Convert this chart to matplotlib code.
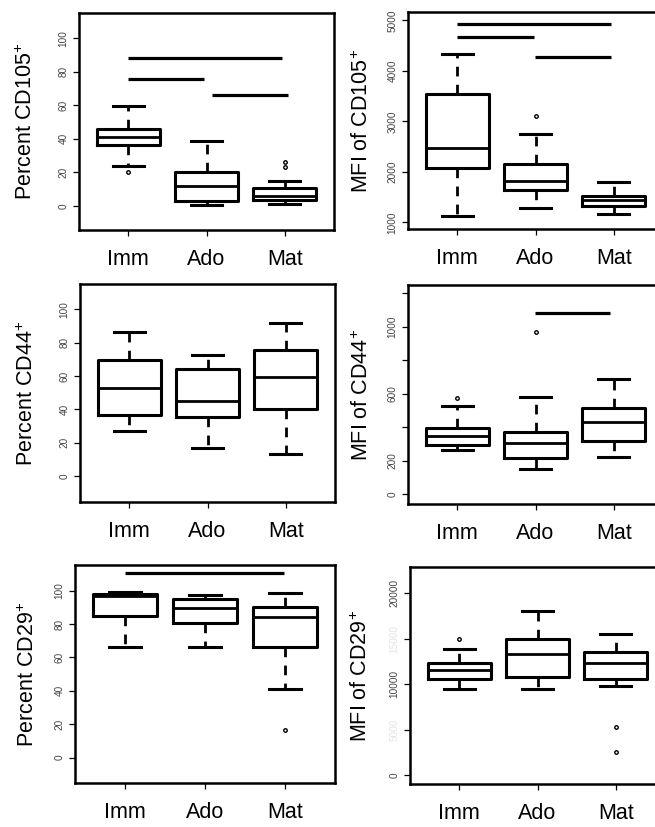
import matplotlib
matplotlib.use("Agg")
import matplotlib.pyplot as plt

plt.rcParams['font.family'] = ['Liberation Sans', 'DejaVu Sans']
plt.rcParams['mathtext.default'] = 'regular'

groups = ["Imm", "Ado", "Mat"]

# box stats per panel: whisker low, q1, median, q3, whisker high, outliers
cd105_pct_lo = [23.9, 0.4, 1.2]
cd105_pct_q1 = [36.3, 2.6, 3.4]
cd105_pct_med = [41.0, 11.8, 5.8]
cd105_pct_q3 = [45.8, 20.1, 10.4]
cd105_pct_hi = [59.4, 38.6, 14.7]
cd105_pct_out = [[20.1], [], [23.3, 25.9]]
cd105_pct_sig = [(1, 2.96, 88.4), (1, 1.97, 75.5), (2.07, 3.04, 66.1)]

cd105_mfi_lo = [1132, 1284, 1165]
cd105_mfi_q1 = [2069, 1634, 1317]
cd105_mfi_med = [2472, 1812, 1449]
cd105_mfi_q3 = [3541, 2162, 1528]
cd105_mfi_hi = [4340, 2756, 1792]
cd105_mfi_out = [[], [3112], []]
cd105_mfi_sig = [(1, 2.97, 4934), (1, 1.98, 4670), (1.99, 2.97, 4267)]

cd44_pct_lo = [27.0, 17.0, 13.4]
cd44_pct_q1 = [36.8, 35.6, 40.2]
cd44_pct_med = [53.0, 44.8, 59.4]
cd44_pct_q3 = [69.6, 64.0, 75.6]
cd44_pct_hi = [86.4, 72.6, 91.8]
cd44_pct_out = [[], [], []]
cd44_pct_sig = []

cd44_mfi_lo = [262, 149, 225]
cd44_mfi_q1 = [294, 215, 316]
cd44_mfi_med = [350, 308, 433]
cd44_mfi_q3 = [394, 370, 517]
cd44_mfi_hi = [525, 584, 686]
cd44_mfi_out = [[578], [968], []]
cd44_mfi_sig = [(1.99, 2.95, 1083)]

cd29_pct_lo = [66.4, 66.4, 41.0]
cd29_pct_q1 = [84.8, 80.4, 66.4]
cd29_pct_med = [96.8, 89.8, 84.4]
cd29_pct_q3 = [98.0, 94.8, 90.4]
cd29_pct_hi = [99.0, 97.4, 98.4]
cd29_pct_out = [[], [], [16.4]]
cd29_pct_sig = [(1, 2.99, 110.4)]

cd29_mfi_lo = [9453, 9453, 9781]
cd29_mfi_q1 = [10584, 10839, 10620]
cd29_mfi_med = [11606, 13285, 12299]
cd29_mfi_q3 = [12299, 14964, 13540]
cd29_mfi_hi = [13869, 18029, 15511]
cd29_mfi_out = [[14927], [], [5255, 2555]]
cd29_mfi_sig = []

panels = [
    # ylabel, stats, sig bars, ylim, ticks, labelled ticks, faint ticks, pixel box, label x
    ("Percent CD105$^{+}$",
     (cd105_pct_lo, cd105_pct_q1, cd105_pct_med, cd105_pct_q3, cd105_pct_hi, cd105_pct_out),
     cd105_pct_sig, (-14.5, 115), [0, 20, 40, 60, 80, 100], [0, 20, 40, 60, 80, 100], [],
     (79, 334, 13, 230), -0.205),
    ("MFI of CD105$^{+}$",
     (cd105_mfi_lo, cd105_mfi_q1, cd105_mfi_med, cd105_mfi_q3, cd105_mfi_hi, cd105_mfi_out),
     cd105_mfi_sig, (868, 5165), [1000, 2000, 3000, 4000, 5000], [1000, 2000, 3000, 4000, 5000], [],
     (408, 663, 12, 229), -0.178),
    ("Percent CD44$^{+}$",
     (cd44_pct_lo, cd44_pct_q1, cd44_pct_med, cd44_pct_q3, cd44_pct_hi, cd44_pct_out),
     cd44_pct_sig, (-15.6, 115.2), [0, 20, 40, 60, 80, 100], [0, 20, 40, 60, 80, 100], [],
     (80, 335, 284, 502), -0.208),
    ("MFI of CD44$^{+}$",
     (cd44_mfi_lo, cd44_mfi_q1, cd44_mfi_med, cd44_mfi_q3, cd44_mfi_hi, cd44_mfi_out),
     cd44_mfi_sig, (-58, 1250), [0, 200, 400, 600, 800, 1000, 1200], [0, 200, 600, 1000], [],
     (408, 663, 285, 504), -0.18),
    ("Percent CD29$^{+}$",
     (cd29_pct_lo, cd29_pct_q1, cd29_pct_med, cd29_pct_q3, cd29_pct_hi, cd29_pct_out),
     cd29_pct_sig, (-15.2, 115.4), [0, 20, 40, 60, 80, 100], [0, 20, 40, 60, 80, 100], [],
     (75, 335, 565, 783), -0.18),
    ("MFI of CD29$^{+}$",
     (cd29_mfi_lo, cd29_mfi_q1, cd29_mfi_med, cd29_mfi_q3, cd29_mfi_hi, cd29_mfi_out),
     cd29_mfi_sig, (-949, 22847), [0, 5000, 10000, 15000, 20000], [0, 10000, 20000], [5000, 15000],
     (410, 665, 567, 784), -0.19),
]

W, H = 655, 827
fig = plt.figure(figsize=(W / 100, H / 100), dpi=100)

for ylab, st, sig, ylim, ticks, shown, faint, box, labx in panels:
    x0, x1, yt, yb = box
    ax = fig.add_axes([x0 / W, 1 - yb / H, (x1 - x0) / W, (yb - yt) / H])
    lo, q1, med, q3, hi, out = st
    stats = [dict(whislo=lo[i], q1=q1[i], med=med[i], q3=q3[i], whishi=hi[i],
                  fliers=out[i], label=groups[i]) for i in range(3)]
    ax.bxp(stats, positions=[1, 2, 3], widths=0.8, showfliers=True,
           boxprops=dict(color='black', linewidth=2.2),
           medianprops=dict(color='black', linewidth=2.0),
           whiskerprops=dict(color='black', linewidth=2.0, linestyle=(0, (3.5, 3))),
           capprops=dict(color='black', linewidth=2.2),
           flierprops=dict(marker='o', markersize=2.5, markerfacecolor='white',
                           markeredgecolor='black', markeredgewidth=1.0))
    for a, b, y in sig:
        ax.plot([a, b], [y, y], color='black', linewidth=2.3, solid_capstyle='butt')
    ax.set_xlim(0.37, 3.63)
    ax.set_ylim(*ylim)
    ax.set_yticks(ticks)
    ax.set_yticklabels([str(t) if (t in shown or t in faint) else '' for t in ticks])
    ax.tick_params(axis='y', length=4.5, width=0.9, labelsize=7.2, labelcolor='#444444',
                   pad=3, labelrotation=90)
    for t, lab in zip(ticks, ax.get_yticklabels()):
        lab.set_va('center')
        if t in faint:
            lab.set_color('#e4e4e4')
    ax.set_xticks([1, 2, 3])
    ax.set_xticklabels(groups)
    ax.tick_params(axis='x', length=4.5, width=0.9, labelsize=15.5, pad=9)
    for s in ax.spines.values():
        s.set_linewidth(1.8)
    ax.set_ylabel(ylab, fontsize=15.5, va='center')
    ax.yaxis.set_label_coords(labx, 0.5)

fig.savefig("out.png", dpi=100)
